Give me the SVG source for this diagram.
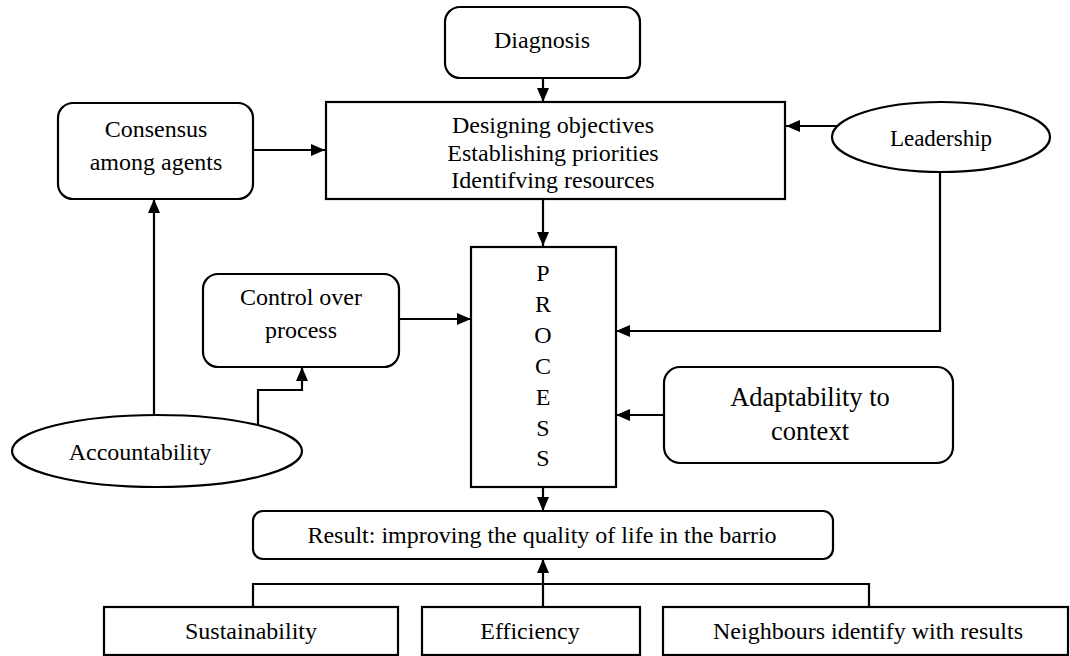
<svg xmlns="http://www.w3.org/2000/svg" width="1070" height="656" viewBox="0 0 1070 656">
<defs>
<marker id="ah" viewBox="0 0 14 12" refX="14" refY="6" markerWidth="14" markerHeight="12" markerUnits="userSpaceOnUse" orient="auto">
<path d="M0,0 L14,6 L0,12 Z" fill="#000"/>
</marker>
</defs>
<style>
.box{fill:#fff;stroke:#000;stroke-width:2.2}
.t{font-family:"Liberation Serif","Times New Roman",serif;font-size:24px;fill:#000;text-anchor:middle}
.c{fill:none;stroke:#000;stroke-width:2.2}
.a{marker-end:url(#ah)}
</style>
<rect width="1070" height="656" fill="#fff"/>
<g id="connectors">
<path class="c a" d="M543,78 V102"/>
<path class="c a" d="M253,150 H325"/>
<path class="c a" d="M837,126 H786"/>
<path class="c a" d="M543,199 V246"/>
<path class="c a" d="M940,172 V331 H616"/>
<path class="c a" d="M399,319 H471"/>
<path class="c a" d="M154,415 V199"/>
<path class="c a" d="M258,425 V390 H302 V367"/>
<path class="c a" d="M663,415 H616"/>
<path class="c a" d="M543,487 V511"/>
<path class="c" d="M253,607 V584 H869 V607"/>
<path class="c a" d="M543,607 V559"/>
</g>
<g id="diagnosis">
<rect class="box" x="445" y="7" width="195" height="71" rx="15"/>
<text class="t" x="542" y="48">Diagnosis</text>
</g>
<g id="designing">
<rect class="box" x="326" y="102" width="459" height="97"/>
<text class="t" x="553" y="133">Designing objectives</text>
<text class="t" x="553" y="161">Establishing priorities</text>
<text class="t" x="553" y="188">Identifving resources</text>
</g>
<g id="consensus">
<rect class="box" x="58" y="103" width="195" height="96" rx="15"/>
<text class="t" x="156" y="137">Consensus</text>
<text class="t" x="156" y="170">among agents</text>
</g>
<g id="leadership">
<ellipse class="box" cx="941" cy="137" rx="109" ry="35"/>
<text class="t" x="941" y="146" style="font-size:23px">Leadership</text>
</g>
<g id="process">
<rect class="box" x="471" y="247" width="145" height="240"/>
<text class="t" x="543" y="281">P</text>
<text class="t" x="543" y="312">R</text>
<text class="t" x="543" y="343">O</text>
<text class="t" x="543" y="374">C</text>
<text class="t" x="543" y="405">E</text>
<text class="t" x="543" y="436">S</text>
<text class="t" x="543" y="466">S</text>
</g>
<g id="control">
<rect class="box" x="203" y="274" width="196" height="93" rx="15"/>
<text class="t" x="301" y="305">Control over</text>
<text class="t" x="301" y="338">process</text>
</g>
<g id="accountability">
<ellipse class="box" cx="157" cy="451" rx="145" ry="36"/>
<text class="t" x="140" y="460">Accountability</text>
</g>
<g id="adaptability">
<rect class="box" x="664" y="367" width="289" height="96" rx="16"/>
<text class="t" x="810" y="406" style="font-size:26.5px">Adaptability to</text>
<text class="t" x="810" y="440" style="font-size:26.5px">context</text>
</g>
<g id="result">
<rect class="box" x="253" y="511" width="580" height="48" rx="10"/>
<text class="t" x="542" y="543">Result: improving the quality of life in the barrio</text>
</g>
<g id="sustainability">
<rect class="box" x="104" y="607" width="294" height="48"/>
<text class="t" x="251" y="639">Sustainability</text>
</g>
<g id="efficiency">
<rect class="box" x="422" y="607" width="218" height="48"/>
<text class="t" x="530" y="639">Efficiency</text>
</g>
<g id="neighbours">
<rect class="box" x="663" y="607" width="405" height="48"/>
<text class="t" x="868" y="639">Neighbours identify with results</text>
</g>
</svg>
